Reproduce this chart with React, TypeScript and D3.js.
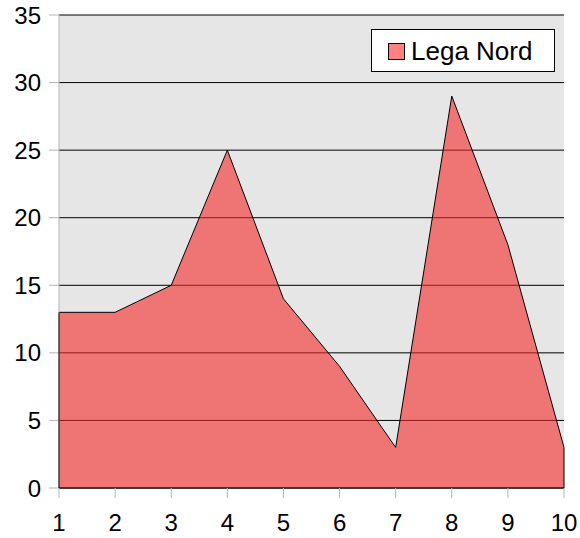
import React from "react";
import * as d3 from "d3";

const categories: number[] = [1, 2, 3, 4, 5, 6, 7, 8, 9, 10];
const values: number[] = [13, 13, 15, 25, 14, 9, 3, 29, 18, 3];
const yTicks: number[] = [0, 5, 10, 15, 20, 25, 30, 35];
const seriesName = "Lega Nord";

export default function App() {
  const W = 580, H = 538;
  const left = 59, right = 564, top = 15, bottom = 488;
  const x = d3.scaleLinear().domain([1, 10]).range([left, right]);
  const y = d3.scaleLinear().domain([0, 35]).range([bottom, top]);
  const pts = categories.map((c, i) => [c, values[i]] as [number, number]);
  const area = d3.area<[number, number]>().x(d => x(d[0])).y0(y(0)).y1(d => y(d[1]))(pts) || "";
  const line = d3.line<[number, number]>().x(d => x(d[0])).y(d => y(d[1]))(pts) || "";
  const font = "'Liberation Sans', Arial, sans-serif";
  return (
    <svg width={W} height={H} style={{ position: "absolute", left: 0, top: 0 }} fontFamily={font}>
      <rect x={0} y={0} width={W} height={H} fill="#fff" />
      <rect x={left} y={top} width={right - left} height={bottom - top} fill="#e6e6e6" />
      {yTicks.map(t => (
        <g key={t}>
          <line x1={left} x2={right} y1={y(t)} y2={y(t)} stroke="#000" strokeWidth={1} />
          <line x1={left - 10} x2={left} y1={y(t)} y2={y(t)} stroke="#b3b3b3" strokeWidth={1} />
          <text x={41} y={y(t) + 8.5} textAnchor="end" fontSize={24} fill="#000">{t}</text>
        </g>
      ))}
      <path d={area} fill="#f52a2a" fillOpacity={0.6} stroke="none" />
      <path d={line} fill="none" stroke="#000" strokeWidth={1} />
      <line x1={right} x2={right} y1={y(values[values.length - 1])} y2={bottom} stroke="#000" strokeWidth={1} />
      <line x1={left} x2={left} y1={top} y2={bottom} stroke="#b3b3b3" strokeWidth={1} />
      <line x1={left} x2={left} y1={y(values[0])} y2={bottom} stroke="#000" strokeWidth={1} />
      <line x1={left} x2={right} y1={bottom} y2={bottom} stroke="#000" strokeWidth={1} />
      {categories.map(c => (
        <g key={c}>
          <line x1={x(c)} x2={x(c)} y1={bottom} y2={bottom + 10} stroke="#b3b3b3" strokeWidth={1} />
          <text x={x(c)} y={531} textAnchor="middle" fontSize={24} fill="#000">{c}</text>
        </g>
      ))}
      <g>
        <rect x={371.5} y={29.5} width={183} height={42} fill="#fff" stroke="#000" strokeWidth={1} />
        <rect x={388.5} y={43.5} width={16} height={16} fill="#ff8080" stroke="#000" strokeWidth={1} />
        <text x={411} y={59.5} fontSize={26} fill="#000">{seriesName}</text>
      </g>
    </svg>
  );
}
